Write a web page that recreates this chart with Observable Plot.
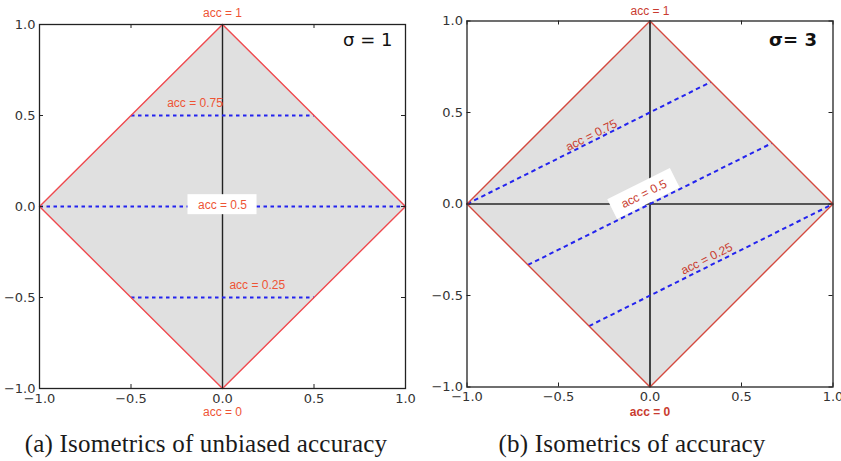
<!DOCTYPE html>
<html>
<head>
<meta charset="utf-8">
<script src="https://cdn.jsdelivr.net/npm/d3@7"></script>
<script src="https://cdn.jsdelivr.net/npm/@observablehq/plot@0.6"></script>
<style>
  body { margin: 0; background: #fff; width: 841px; height: 461px; overflow: hidden; position: relative; }
  .panel { position: absolute; top: 0; }
  .cap { position: absolute; top: 430px; font-family: "Liberation Serif", serif; font-size: 25px; letter-spacing: 0.2px; color: #1a1a1a; text-align: center; white-space: nowrap; }
</style>
</head>
<body>
<div class="panel" id="pa" style="left:0"></div>
<div class="panel" id="pb" style="left:420px"></div>
<div class="cap" style="left:6px;width:400px">(a) Isometrics of unbiased accuracy</div>
<div class="cap" style="left:432px;width:400px">(b) Isometrics of accuracy</div>
<script>
// ROC-style accuracy space: the diamond spanned by the four vertices
const diamondX = [0, 1, 0, -1, 0];
const diamondY = [1, 0, -1, 0, 1];

// axis ticks
const tickValues = [-1, -0.5, 0, 0.5, 1];

// vertex annotations
const topLabel = "acc = 1";
const bottomLabel = "acc = 0";

// (a) σ = 1: horizontal isometrics
const accA = ["acc = 0.75", "acc = 0.5", "acc = 0.25"];
const isoA_x1 = [-0.5, -1, -0.5];
const isoA_x2 = [0.5, 1, 0.5];
const isoA_y = [0.5, 0, -0.5];
const labelA_x = [-0.15, 0, 0.19];
const labelA_y = [0.57, 0.01, -0.43];

// (b) σ = 3: tilted isometrics (slope 1/2)
const accB = ["acc = 0.75", "acc = 0.5", "acc = 0.25"];
const isoB_x1 = [-1, -0.667, -0.333];
const isoB_y1 = [0, -0.333, -0.667];
const isoB_x2 = [0.333, 0.667, 1];
const isoB_y2 = [0.667, 0.333, 0];
const labelB_x = [-0.32, -0.033, 0.31];
const labelB_y = [0.375, 0.055, -0.30];

const fmt = d3.format(".1f");
const sans = "'Liberation Sans', Arial, sans-serif";

// white box placed behind the middle isometric's label
function labelBox(x, y, w, h, angle) {
  return (index, {x: sx, y: sy}) => {
    const g = d3.create("svg:g");
    g.append("rect")
      .attr("x", -w / 2).attr("y", -h / 2)
      .attr("width", w).attr("height", h)
      .attr("fill", "#fff")
      .attr("transform", `translate(${sx(x)},${sy(y)}) rotate(${angle})`);
    return g.node();
  };
}

// inward ticks on all four sides of the frame
function inwardTicks(innerW, innerH) {
  const len = 4;
  const s = {stroke: "#222", strokeWidth: 1};
  return [
    Plot.tickX(tickValues, {x: d => d, insetTop: innerH - len, ...s}),
    Plot.tickX(tickValues, {x: d => d, insetBottom: innerH - len, ...s}),
    Plot.tickY(tickValues, {y: d => d, insetRight: innerW - len, ...s}),
    Plot.tickY(tickValues, {y: d => d, insetLeft: innerW - len, ...s})
  ];
}

function basePlot(o, marks) {
  return Plot.plot({
    width: o.width,
    height: o.height,
    marginLeft: o.ml, marginRight: o.mr, marginTop: o.mt, marginBottom: o.mb,
    style: {fontFamily: "'DejaVu Sans', sans-serif", fontSize: "13px", color: "#333", background: "transparent", overflow: "visible"},
    x: {domain: [-1, 1], label: null},
    y: {domain: [-1, 1], label: null},
    marks: [
      ...marks,
      ...inwardTicks(o.width - o.ml - o.mr, o.height - o.mt - o.mb),
      Plot.axisX(tickValues, {tickSize: 0, tickPadding: 5, tickFormat: fmt, fill: "#333", label: null}),
      Plot.axisY(tickValues, {tickSize: 0, tickPadding: 4, tickFormat: fmt, fill: "#333", label: null}),
      Plot.frame({stroke: "#222", strokeWidth: 1.3})
    ]
  });
}

const diamond = diamondX.map((x, i) => ({x, y: diamondY[i]}));

// ---- panel (a)
const redA = "#ef4a4f", textA = "#ee5435";
const linesA = accA.map((t, i) => ({x1: isoA_x1[i], x2: isoA_x2[i], y: isoA_y[i]}));
const labsA = accA.map((t, i) => ({t, x: labelA_x[i], y: labelA_y[i]}));

const plotA = basePlot({width: 420, height: 430, ml: 39, mr: 15, mt: 24, mb: 42}, [
  Plot.line(diamond, {x: "x", y: "y", fill: "#e0e0e0", stroke: "none"}),
  Plot.ruleX([0], {y1: -1, y2: 1, stroke: "#222", strokeWidth: 1.4}),
  Plot.link(linesA, {x1: "x1", x2: "x2", y1: "y", y2: "y", stroke: "#2323ee", strokeWidth: 2, strokeDasharray: "3.5,3.5"}),
  Plot.line(diamond, {x: "x", y: "y", stroke: redA, strokeWidth: 1.4}),
  labelBox(labelA_x[1], labelA_y[1], 69, 20, 0),
  Plot.text(labsA, {x: "x", y: "y", text: "t", fill: textA, fontSize: 12, fontFamily: sans}),
  Plot.text([topLabel], {x: 0, y: 1, text: d => d, fill: textA, fontSize: 12, fontFamily: sans, dy: -11}),
  Plot.text([bottomLabel], {x: 0, y: -1, text: d => d, fill: textA, fontSize: 12, fontFamily: sans, dy: 24}),
  Plot.text(["σ = 1"], {frameAnchor: "top-right", dx: -13, dy: 9, text: d => d, fontSize: 18, fill: "#111", fontFamily: "'DejaVu Sans', sans-serif"})
]);
document.getElementById("pa").append(plotA);

// ---- panel (b)
const redB = "#d4493f", textB = "#c93b2f";
const linesB = accB.map((t, i) => ({x1: isoB_x1[i], y1: isoB_y1[i], x2: isoB_x2[i], y2: isoB_y2[i]}));
const labsB = accB.map((t, i) => ({t, x: labelB_x[i], y: labelB_y[i]}));
const tilt = -26.57;

const plotB = basePlot({width: 421, height: 430, ml: 46.5, mr: 8.5, mt: 20.5, mb: 43.5}, [
  Plot.line(diamond, {x: "x", y: "y", fill: "#e0e0e0", stroke: "none"}),
  Plot.ruleX([0], {y1: -1, y2: 1, stroke: "#444", strokeWidth: 2}),
  Plot.ruleY([0], {x1: -1, x2: 1, stroke: "#555", strokeWidth: 2}),
  Plot.link(linesB, {x1: "x1", x2: "x2", y1: "y1", y2: "y2", stroke: "#2323ee", strokeWidth: 2, strokeDasharray: "4.5,3.5"}),
  Plot.line(diamond, {x: "x", y: "y", stroke: redB, strokeWidth: 1.4}),
  labelBox(labelB_x[1], labelB_y[1], 70, 22, tilt),
  Plot.text(labsB, {x: "x", y: "y", text: "t", fill: textB, fontSize: 12, rotate: tilt, fontFamily: sans}),
  Plot.text([topLabel], {x: 0, y: 1, text: d => d, fill: textB, fontSize: 12, fontFamily: sans, dy: -10}),
  Plot.text([bottomLabel], {x: 0, y: -1, text: d => d, fill: textB, fontSize: 12, fontWeight: "bold", fontFamily: sans, dy: 25.5}),
  Plot.text(["σ= 3"], {frameAnchor: "top-right", dx: -16, dy: 12, text: d => d, fontSize: 18, fontWeight: "bold", fill: "#111", fontFamily: "'DejaVu Sans', sans-serif"})
]);
document.getElementById("pb").append(plotB);
</script>
</body>
</html>
